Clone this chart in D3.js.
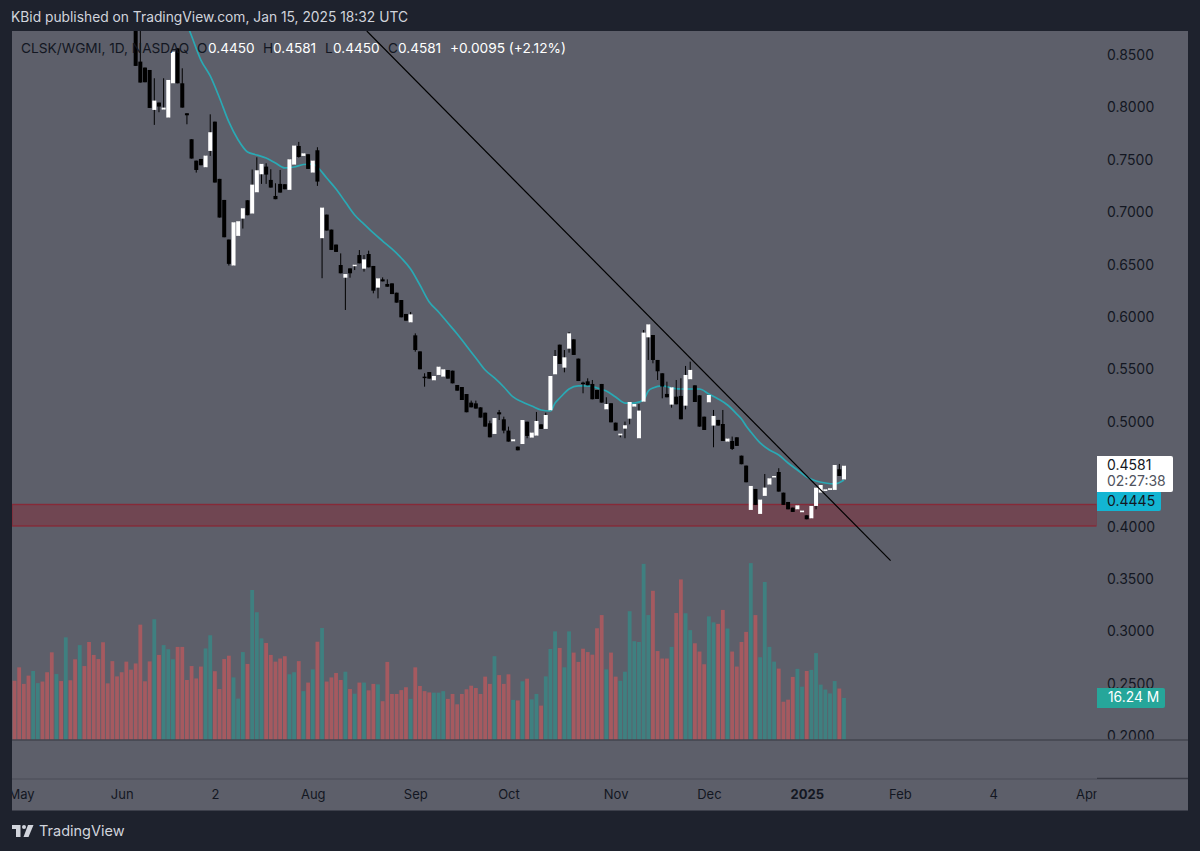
<!DOCTYPE html>
<html>
<head>
<meta charset="utf-8">
<script src="https://cdn.jsdelivr.net/npm/d3@7"></script>
<style>
  html, body { margin: 0; padding: 0; background: #1e222d; }
  svg { display: block; font-family: Inter, Roboto, sans-serif; }
</style>
</head>
<body>
<svg id="chart" width="1200" height="851"></svg>
<script>
// volume in millions, one value per daily bar
const volumes = [
  22.9,28.1,21.7,24.9,26.7,22.0,22.6,26.2,33.9,25.5,22.8,39.7,23.1,31.2,36.7,28.6,37.9,32.9,31.3,37.8,
  21.9,30.5,24.6,26.2,30.3,27.2,29.6,44.6,22.7,30.4,46.7,32.9,36.7,35.1,31.2,36.0,36.0,23.2,28.6,23.8,
  28.4,35.4,40.5,26.6,19.7,31.3,32.6,24.2,16.0,34.0,29.4,58.0,49.4,39.3,37.5,32.9,30.3,31.5,32.4,25.4,
  26.2,30.5,18.9,22.2,27.3,38.0,43.3,22.6,24.2,25.9,23.2,26.4,19.7,17.9,22.2,22.2,19.2,21.7,21.5,15.0,
  30.2,17.8,17.8,19.3,20.4,15.9,28.1,20.9,18.9,18.4,18.3,18.3,18.9,15.9,17.8,13.8,17.8,19.6,21.0,20.1,
  17.8,24.5,21.7,32.4,25.1,21.7,25.4,15.5,15.3,22.7,23.7,15.7,17.8,13.3,24.6,35.2,42.0,35.6,28.1,42.0,
  33.8,30.2,35.3,34.0,33.0,43.2,48.3,27.3,33.8,24.5,22.9,26.4,49.8,38.2,37.9,68.1,48.3,57.7,34.4,31.5,
  31.5,36.0,49.1,62.1,49.0,42.5,37.4,34.2,29.3,47.8,45.5,44.9,50.3,43.1,34.2,28.4,37.9,41.8,68.4,48.3,
  32.0,61.1,36.0,30.3,27.6,14.8,15.6,24.4,27.5,20.6,26.7,27.1,33.6,21.4,19.5,18.0,22.8,19.9,16.24
];
// bars that closed up (teal volume); all others are red
const upBars = [4,5,9,11,14,30,32,33,34,41,42,47,48,49,51,52,53,59,60,62,64,66,71,73,75,78,85,90,91,92,
  103,107,109,111,112,114,115,116,118,119,127,130,131,132,133,134,135,136,141,144,145,149,150,153,158,
  160,161,162,163,168,169,171,172,173,174,175,176,178];

// candles start here, the earlier ones are above the top of the chart
const firstCandle = 26;
const opens = [
  .8834,.8437,.8380,.8357,.7976,.8046,.7979,.7903,.8230,.8564,.8230,.7944,.7696,.7492,.7508,.7429,.7585,.7864,.7318,.7117,
  .6739,.6491,.6774,.6939,.7114,.6987,.7190,.7362,.7435,.7308,.7155,.7270,.7267,.7213,.7454,.7632,.7537,.7553,.7378,.7591,
  .6752,.6977,.6834,.6691,.6496,.6375,.6464,.6487,.6591,.6461,.6601,.6487,.6280,.6359,.6315,.6321,.6232,.6162,.6029,.5949,
  .5825,.5672,.5431,.5475,.5396,.5447,.5431,.5494,.5488,.5351,.5332,.5265,.5183,.5176,.5138,.5087,.4986,.4884,.5091,.5024,
  .4916,.4814,.4763,.4788,.5001,.4849,.4868,.4976,.4932,.5110,.5453,.5736,.5517,.5698,.5787,.5603,.5374,.5386,.5361,.5304,
  .5361,.5119,.5177,.4992,.4871,.4935,.5030,.5145,.4843,.5192,.5806,.5828,.5590,.5463,.5266,.5164,.5240,.5247,.5154,.5406,
  .5348,.5253,.5049,.5186,.4964,.5018,.4979,.4811,.4817,.4852,.4677,.4582,.4159,.4359,.4121,.4293,.4401,.4471,.4521,.4324,
  .4235,.4181,.4165,.4137,.4108,.4079,.4197,.4324,.4340,.4350,.4350,.4547,.4450
];
const highs = [
  .8950,.8750,.8380,.8357,.8278,.8046,.8278,.8262,.8532,.8564,.8373,.7944,.7696,.7492,.7508,.7540,.7934,.7864,.7318,.7117,
  .6739,.6904,.6914,.7038,.7114,.7407,.7524,.7461,.7467,.7410,.7276,.7403,.7267,.7505,.7636,.7671,.7562,.7553,.7492,.7620,
  .7044,.6977,.6834,.6691,.6607,.6410,.6464,.6499,.6639,.6591,.6633,.6487,.6369,.6378,.6359,.6321,.6232,.6162,.6029,.6048,
  .5844,.5672,.5463,.5475,.5437,.5526,.5501,.5494,.5488,.5351,.5332,.5265,.5202,.5202,.5138,.5087,.5011,.5036,.5113,.5049,
  .4954,.4833,.4763,.5017,.5001,.4897,.5094,.4976,.5087,.5437,.5685,.5736,.5685,.5857,.5787,.5603,.5383,.5415,.5399,.5304,
  .5361,.5234,.5177,.4992,.4887,.5002,.5189,.5170,.5170,.5876,.5930,.5828,.5590,.5463,.5383,.5329,.5399,.5415,.5533,.5574,
  .5348,.5253,.5049,.5256,.5113,.5018,.5113,.4840,.4859,.4852,.4677,.4582,.4388,.4359,.4258,.4502,.4461,.4483,.4557,.4324,
  .4235,.4181,.4203,.4153,.4108,.4197,.4372,.4397,.4356,.4366,.4588,.4598,.4581
];
const lows = [
  .8396,.8237,.8240,.7995,.7833,.7954,.7979,.7903,.8230,.8230,.7998,.7839,.7512,.7378,.7448,.7429,.7537,.7283,.6949,.6761,
  .6491,.6491,.6774,.6844,.6971,.6987,.7190,.7270,.7270,.7235,.7124,.7187,.7219,.7213,.7454,.7521,.7537,.7413,.7378,.7251,
  .6370,.6825,.6640,.6621,.6417,.6067,.6375,.6448,.6512,.6433,.6474,.6226,.6178,.6340,.6289,.6219,.6137,.5997,.5965,.5949,
  .5669,.5501,.5335,.5412,.5396,.5447,.5431,.5412,.5367,.5297,.5208,.5091,.5138,.5126,.5040,.4954,.4852,.4884,.5017,.4890,
  .4811,.4814,.4728,.4788,.4843,.4849,.4868,.4932,.4932,.5110,.5453,.5552,.5472,.5660,.5638,.5389,.5272,.5348,.5215,.5218,
  .5183,.5119,.4995,.4916,.4852,.4843,.4976,.5145,.4843,.5192,.5590,.5558,.5399,.5224,.5234,.5135,.5167,.5024,.5119,.5406,
  .5189,.4954,.4922,.5186,.4757,.4964,.4817,.4811,.4731,.4770,.4595,.4423,.4159,.4207,.4121,.4293,.4401,.4471,.4334,.4207,
  .4165,.4140,.4165,.4137,.4070,.4079,.4165,.4324,.4340,.4350,.4350,.4483,.4450
];
const closes = [
  .8396,.8237,.8240,.7995,.8065,.8008,.7998,.8262,.8532,.8230,.7998,.7925,.7512,.7403,.7448,.7540,.7763,.7283,.6949,.6761,
  .6507,.6904,.6914,.7038,.6971,.7263,.7400,.7461,.7359,.7235,.7124,.7187,.7219,.7505,.7636,.7527,.7562,.7413,.7492,.7292,
  .7044,.6825,.6640,.6621,.6417,.6410,.6417,.6499,.6512,.6550,.6474,.6251,.6369,.6340,.6289,.6219,.6137,.5997,.5965,.6025,
  .5685,.5501,.5421,.5412,.5437,.5526,.5501,.5412,.5367,.5297,.5208,.5091,.5138,.5126,.5040,.4954,.4852,.5036,.5071,.4916,
  .4811,.4833,.4728,.5017,.4865,.4897,.5008,.4932,.5065,.5437,.5628,.5552,.5615,.5844,.5638,.5389,.5361,.5348,.5215,.5218,
  .5183,.5170,.4995,.4916,.4887,.4967,.5189,.5170,.5107,.5851,.5930,.5590,.5482,.5336,.5234,.5329,.5167,.5024,.5447,.5495,
  .5189,.4954,.4922,.5256,.5056,.4964,.4817,.4840,.4741,.4770,.4595,.4423,.4388,.4207,.4258,.4372,.4461,.4483,.4334,.4207,
  .4165,.4140,.4203,.4153,.4070,.4197,.4372,.4397,.4356,.4366,.4588,.4483,.4581
];

const maBars = [37,38,40,42,44,46,48,50,52,54,56,58,60,62,64,65,67,69,71,73,75,77,79,81,83,85,87,89,91,93,95,97,99,101,103,105,107,
  109,111,113,115,116,117,119,121,123,125,127,129,131,133,135,136,137,139,141,143,145,147,149,151,153,155,156,157,158,160,162,164,166,
  168,170,172,174,176,178];
const maValues = [.8796,.8681,.8452,.8300,.8090,.7861,.7689,.7574,.7546,.7517,.7469,.7422,.7431,.7455,.7460,.7431,.7326,.7221,.7097,.6973,
  .6887,.6802,.6725,.6649,.6563,.6458,.6305,.6143,.6048,.5943,.5838,.5723,.5609,.5494,.5418,.5332,.5237,.5189,.5151,.5113,.5103,.5179,
  .5227,.5313,.5342,.5342,.5323,.5294,.5237,.5179,.5179,.5208,.5294,.5323,.5342,.5323,.5313,.5313,.5313,.5265,.5218,.5160,.5074,.5027,
  .4960,.4903,.4798,.4731,.4683,.4607,.4540,.4473,.4435,.4416,.4407,.4445];

const trendBars = [75.6, 188];
const trendPrices = [.8729, .3675];
const zonePrices = [.4211, .4006];

const priceTicks = [.85,.8,.75,.7,.65,.6,.55,.5,.4,.35,.3,.25,.2];
const timeTickBars = [1.4,23,43,64,86,106,129,149,170,190,210,230];
const timeTickLabels = ['May','Jun','2','Aug','Sep','Oct','Nov','Dec','2025','Feb','4','Apr'];

const bg = '#5d5f6a', frame = '#1e222d', ink = '#131722', sep = '#43454f';
const upVol = '#3f8080', downVol = '#a55a60';

const svg = d3.select('#chart');
const x = d3.scaleLinear().domain([0, 178]).range([14.5, 844]);
const y = d3.scaleLinear().domain([.85, .2]).range([55, 736.2]);
const yVol = d3.scaleLinear().domain([0, 100]).range([740, 481.4]);

svg.append('rect').attr('width', 1200).attr('height', 851).attr('fill', frame);
svg.append('rect').attr('x', 12).attr('y', 31).attr('width', 1176).attr('height', 779.5).attr('fill', bg);

const defs = svg.append('defs');
defs.append('clipPath').attr('id', 'plot').append('rect')
  .attr('x', 12).attr('y', 31).attr('width', 1084.5).attr('height', 747);
defs.append('clipPath').attr('id', 'axisY').append('rect')
  .attr('x', 1097).attr('y', 31).attr('width', 91).attr('height', 709);
defs.append('clipPath').attr('id', 'axisX').append('rect')
  .attr('x', 12).attr('y', 779).attr('width', 1084.5).attr('height', 31);

const plot = svg.append('g').attr('clip-path', 'url(#plot)');

// support zone
plot.append('rect')
  .attr('x', 12).attr('width', 1085)
  .attr('y', y(zonePrices[0])).attr('height', y(zonePrices[1]) - y(zonePrices[0]))
  .attr('fill', '#8a2433').attr('fill-opacity', .42)
  .attr('stroke', '#862a38').attr('stroke-width', 1.4);

// volume
plot.append('g').selectAll('rect').data(volumes).join('rect')
  .attr('x', (d, i) => x(i) - 1.9)
  .attr('width', 3.8)
  .attr('y', d => yVol(d))
  .attr('height', d => yVol(0) - yVol(d))
  .attr('fill', (d, i) => upBars.includes(i) ? upVol : downVol);

// moving average
plot.append('path')
  .datum(maBars.map((b, i) => [b, maValues[i]]))
  .attr('fill', 'none').attr('stroke', '#2aa9b4').attr('stroke-width', 1.7)
  .attr('d', d3.line().x(d => x(d[0])).y(d => y(d[1])).curve(d3.curveMonotoneX));

// candles
const candles = plot.append('g').selectAll('g').data(opens).join('g');
candles.append('line')
  .attr('x1', (d, i) => x(i + firstCandle)).attr('x2', (d, i) => x(i + firstCandle))
  .attr('y1', (d, i) => y(highs[i])).attr('y2', (d, i) => y(lows[i]))
  .attr('stroke', '#000').attr('stroke-width', 1);
candles.append('rect')
  .attr('x', (d, i) => x(i + firstCandle) - 2)
  .attr('width', 4)
  .attr('y', (d, i) => y(Math.max(d, closes[i])))
  .attr('height', (d, i) => Math.max(1.5, Math.abs(y(d) - y(closes[i]))))
  .attr('fill', (d, i) => closes[i] >= d ? '#fff' : '#000');

// trend line
plot.append('line')
  .attr('x1', x(trendBars[0])).attr('y1', y(trendPrices[0]))
  .attr('x2', x(trendBars[1])).attr('y2', y(trendPrices[1]))
  .attr('stroke', '#000').attr('stroke-width', 1.2);

// price axis
const yAxis = svg.append('g').attr('clip-path', 'url(#axisY)').append('g')
  .attr('transform', 'translate(1097,0)')
  .call(d3.axisRight(y).tickValues(priceTicks).tickFormat(d3.format('.4f')).tickSize(0).tickPadding(10));
yAxis.select('.domain').remove();
yAxis.selectAll('text').attr('fill', ink).attr('font-size', 14).attr('font-family', 'Inter, Roboto, sans-serif');

// time axis
const xAxis = svg.append('g').attr('clip-path', 'url(#axisX)').append('g')
  .attr('transform', 'translate(0,779)')
  .call(d3.axisBottom(x).tickValues(timeTickBars).tickFormat((d, i) => timeTickLabels[i]).tickSize(0).tickPadding(11));
xAxis.select('.domain').remove();
xAxis.selectAll('text').attr('fill', ink).attr('font-size', 13).attr('font-family', 'Inter, Roboto, sans-serif')
  .attr('font-weight', (d, i) => timeTickLabels[i] === '2025' ? 700 : 400);

// pane separators
svg.append('line').attr('x1', 12).attr('x2', 1188).attr('y1', 740).attr('y2', 740).attr('stroke', sep).attr('stroke-width', 1.3);
svg.append('line').attr('x1', 12).attr('x2', 1097).attr('y1', 779).attr('y2', 779).attr('stroke', '#4a4c57').attr('stroke-width', 1);
svg.append('line').attr('x1', 1097).attr('x2', 1188).attr('y1', 778.5).attr('y2', 778.5).attr('stroke', '#383a44').attr('stroke-width', 1.3);

// last price tags
const tagPath = (x0, x1, y0, y1, r) =>
  `M${x0},${y0}H${x1 - r}Q${x1},${y0} ${x1},${y0 + r}V${y1 - r}Q${x1},${y1} ${x1 - r},${y1}H${x0}Z`;
svg.append('path').attr('d', tagPath(1097, 1161, 491, 511, 2)).attr('fill', '#13b5d3');
svg.append('path').attr('d', tagPath(1097, 1173, 456, 492, 2)).attr('fill', '#fff');
svg.append('path').attr('d', tagPath(1097, 1165, 688, 708, 2)).attr('fill', '#26a69a');

const label = (txt, px, py, fill, size) => svg.append('text')
  .attr('x', px).attr('y', py).attr('fill', fill).attr('font-size', size)
  .attr('dominant-baseline', 'middle').text(txt);

label('0.4581', 1107, 466, ink, 14);
label('02:27:38', 1107, 482, '#50535e', 14);
label('0.4445', 1107, 502, ink, 14);
label('16.24 M', 1108, 698, '#fff', 13.8);

// header and legend
label('KBid published on TradingView.com, Jan 15, 2025 18:32 UTC', 11, 18.5, '#d1d4dc', 13.8);
label('CLSK/WGMI, 1D, NASDAQ', 21, 49, ink, 13.7);
const legendKeys = ['O', 'H', 'L', 'C'];
const legendKeyX = [197, 263, 325, 388];
const legendVals = ['0.4450', '0.4581', '0.4450', '0.4581'];
const legendValX = [208, 273, 333, 398];
legendKeys.forEach((k, i) => {
  label(k, legendKeyX[i], 49, ink, 13.6);
  label(legendVals[i], legendValX[i], 49, '#fff', 13.6);
});
label('+0.0095 (+2.12%)', 450, 49, '#fff', 13.7);

// footer logo
const logo = svg.append('g').attr('fill', '#d1d4dc');
logo.append('path').attr('d', 'M12,825H20.5V837H16V829H12Z');
logo.append('circle').attr('cx', 24).attr('cy', 827).attr('r', 2);
logo.append('path').attr('d', 'M28,825H33.5L28.5,837H23.5Z');
label('TradingView', 39, 832, '#d1d4dc', 14.5);
</script>
</body>
</html>
